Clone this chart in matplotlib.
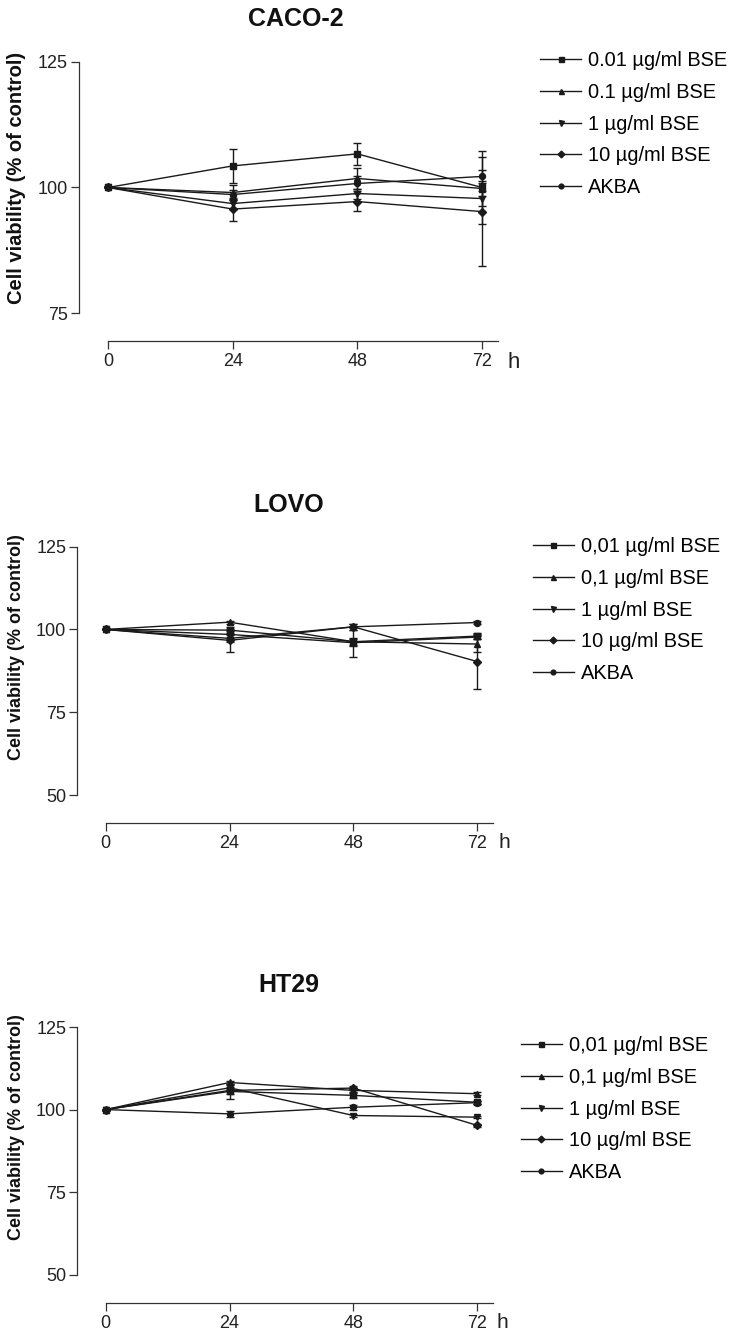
import matplotlib
matplotlib.use("Agg")
import matplotlib.pyplot as plt

plt.rcParams['font.family'] = ['Liberation Sans', 'DejaVu Sans']

# time points (h)
hours = [0, 24, 48, 72]

# CACO-2
caco_titles = ["0.01 µg/ml BSE", "0.1 µg/ml BSE", "1 µg/ml BSE", "10 µg/ml BSE", "AKBA"]
caco_001 = [100, 104.3, 106.7, 100.0]
caco_01 = [100, 99.0, 101.8, 99.8]
caco_1 = [100, 96.8, 98.8, 97.8]
caco_10 = [100, 95.7, 97.2, 95.2]
caco_akba = [100, 98.6, 100.8, 102.2]
caco_001_err = [0, 3.4, 2.2, 7.3]
caco_01_err = [0, 1.5, 2.1, 1.5]
caco_1_err = [0, 1.0, 1.0, 1.5]
caco_10_err = [0, 2.3, 1.8, 10.8]
caco_akba_err = [0, 1.0, 1.5, 1.3]

# LOVO
lovo_titles = ["0,01 µg/ml BSE", "0,1 µg/ml BSE", "1 µg/ml BSE", "10 µg/ml BSE", "AKBA"]
lovo_001 = [100, 99.8, 96.3, 98.0]
lovo_01 = [100, 102.2, 96.3, 95.6]
lovo_1 = [100, 98.5, 96.0, 97.7]
lovo_10 = [100, 96.7, 100.8, 90.3]
lovo_akba = [100, 97.3, 100.8, 102.1]
lovo_001_err = [0, 1.0, 4.5, 0.8]
lovo_01_err = [0, 0.5, 1.0, 2.3]
lovo_1_err = [0, 1.0, 1.0, 0.6]
lovo_10_err = [0, 3.4, 1.0, 8.4]
lovo_akba_err = [0, 1.0, 1.0, 0.5]

# HT29
ht_titles = ["0,01 µg/ml BSE", "0,1 µg/ml BSE", "1 µg/ml BSE", "10 µg/ml BSE", "AKBA"]
ht_001 = [100, 105.5, 104.3, 102.2]
ht_01 = [100, 108.2, 105.8, 104.8]
ht_1 = [100, 106.6, 98.2, 97.7]
ht_10 = [100, 105.8, 106.5, 95.2]
ht_akba = [100, 98.7, 100.7, 102.1]
ht_001_err = [0, 2.2, 0.8, 0.5]
ht_01_err = [0, 0.6, 0.5, 0.4]
ht_1_err = [0, 0.8, 0.5, 0.4]
ht_10_err = [0, 1.0, 0.6, 0.5]
ht_akba_err = [0, 0.8, 0.8, 0.5]

W, H = 733, 1337
fig = plt.figure(figsize=(W / 100, H / 100), dpi=100)

markers = ['s', '^', 'v', 'D', 'o']
msizes = [4.5, 4.5, 4.5, 4.3, 4.3]
col = '#1a1a1a'


def px_axes(left, top, right, bottom):
    return fig.add_axes([left / W, 1 - bottom / H, (right - left) / W, (bottom - top) / H])


def panel(box, x0px, x72px, ylim, yticks, series, errs, labels, title, title_xy, title_size,
          ylab_xy, ylab_size, h_xy, h_size, leg_xy):
    left, top, right, bottom = box
    ax = px_axes(left, top, right, bottom)
    pph = (x72px - x0px) / 72.0
    xmin = (left - x0px) / pph
    xmax = (right - x0px) / pph
    for ys, es, m, ms, lab in zip(series, errs, markers, msizes, labels):
        ax.errorbar(hours, ys, yerr=es, color=col, marker=m, markersize=ms, lw=1.0,
                    elinewidth=1.0, capsize=2.6, capthick=1.0, label=lab, clip_on=False)
    ax.set_xlim(xmin, xmax)
    ax.set_ylim(*ylim)
    ax.set_yticks(yticks)
    ax.set_xticks(hours)
    for s in ['top', 'right']:
        ax.spines[s].set_visible(False)
    ax.spines['bottom'].set_position(('outward', 28 * 0.72))
    ax.spines['bottom'].set_bounds(0, xmax)
    for s in ['left', 'bottom']:
        ax.spines[s].set_linewidth(0.9)
        ax.spines[s].set_color('#333333')
    ax.tick_params(axis='both', length=5.5, width=0.9, color='#333333', labelsize=13,
                   labelcolor='#222222')
    ax.tick_params(axis='y', pad=2.4)
    ax.tick_params(axis='x', pad=3.5)
    fig.text(title_xy[0] / W, 1 - title_xy[1] / H, title, ha='center', va='baseline',
             fontsize=title_size, fontweight='bold', color='#111111')
    fig.text(ylab_xy[0] / W, 1 - ylab_xy[1] / H, "Cell viability (% of control)", rotation=90,
             ha='center', va='center', fontsize=ylab_size, fontweight='bold', color='#111111')
    fig.text(h_xy[0] / W, 1 - h_xy[1] / H, "h", ha='left', va='center', fontsize=h_size,
             color='#222222')
    handles, labs = ax.get_legend_handles_labels()
    handles = [h[0] for h in handles]
    ax.legend(handles, labs, loc='upper left', bbox_to_anchor=(leg_xy[0] / W, 1 - leg_xy[1] / H),
              bbox_transform=fig.transFigure, frameon=False, fontsize=14.4, borderpad=0,
              borderaxespad=0, handlelength=2.05, handletextpad=0.35, labelspacing=0.64,
              markerscale=0.8)
    return ax


panel((79, 62, 498, 313), 108, 482, (75, 125), [75, 100, 125],
      [caco_001, caco_01, caco_1, caco_10, caco_akba],
      [caco_001_err, caco_01_err, caco_1_err, caco_10_err, caco_akba_err],
      caco_titles, "CACO-2", (296, 26), 18, (17, 178), 14.5, (507, 363), 16, (540, 51))

panel((77.3, 546.7, 492.7, 795), 105.7, 477.3, (50, 125), [50, 75, 100, 125],
      [lovo_001, lovo_01, lovo_1, lovo_10, lovo_akba],
      [lovo_001_err, lovo_01_err, lovo_1_err, lovo_10_err, lovo_akba_err],
      lovo_titles, "LOVO", (289, 511.7), 18, (17, 647), 13, (498, 843), 15, (532.7, 537))

panel((77.3, 1027, 492.7, 1274.7), 105.7, 477.3, (50, 125), [50, 75, 100, 125],
      [ht_001, ht_01, ht_1, ht_10, ht_akba],
      [ht_001_err, ht_01_err, ht_1_err, ht_10_err, ht_akba_err],
      ht_titles, "HT29", (289, 991.7), 18, (17, 1127), 13, (496, 1323), 15, (520.7, 1036))

fig.savefig("out.png", dpi=100)
